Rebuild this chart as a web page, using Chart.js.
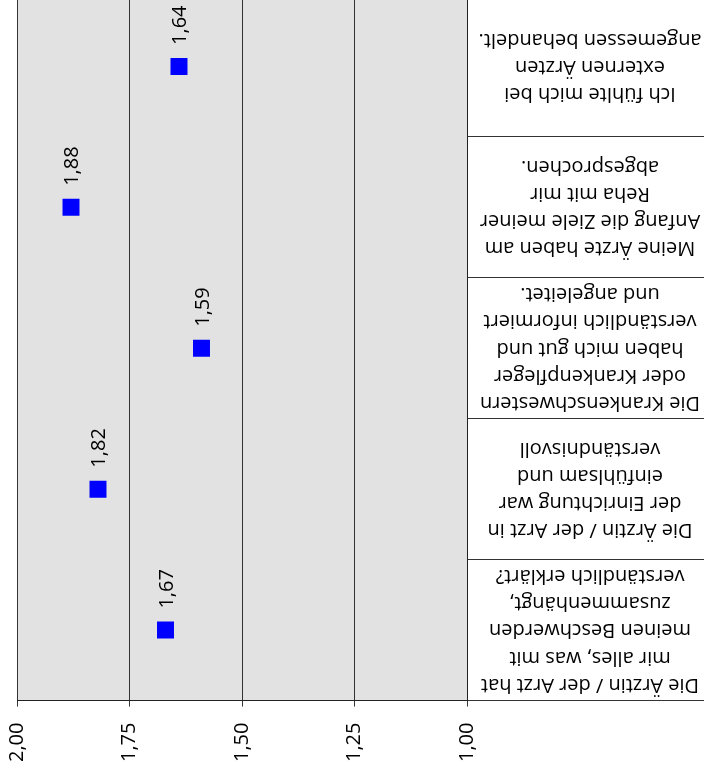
<!DOCTYPE html>
<html>
<head>
<meta charset="utf-8">
<script src="https://cdn.jsdelivr.net/npm/chart.js@4.4.1/dist/chart.umd.min.js"></script>
<style>
    html, body { margin: 0; padding: 0; background: #fff; overflow: hidden; }
    #wrap { position: relative; width: 704px; height: 780px; overflow: hidden; }
    #chart { position: absolute; left: 0; top: -4px; width: 704px; height: 784px; }
</style>
</head>
<body>
<div id="wrap"><canvas id="chart" width="704" height="784"></canvas></div>
<script>
// Survey items (one array of lines per item), first item is drawn at the bottom
const categories = [
    ['Die Ärztin / der Arzt hat', 'mir alles, was mit', 'meinen Beschwerden', 'zusammenhängt,', 'verständlich erklärt?'],
    ['Die Ärztin / der Arzt in', 'der Einrichtung war', 'einfühlsam und', 'verständnisvoll'],
    ['Die Krankenschwestern', 'oder Krankenpfleger', 'haben mich gut und', 'verständlich informiert', 'und angeleitet.'],
    ['Meine Ärzte haben am', 'Anfang die Ziele meiner', 'Reha mit mir', 'abgesprochen.'],
    ['Ich fühlte mich bei', 'externen Ärzten', 'angemessen behandelt.']
];
const values = [1.67, 1.82, 1.59, 1.88, 1.64];
const valueTicks = [2.00, 1.75, 1.50, 1.25, 1.00];

const FONT = "'Open Sans'";
const fmt = v => v.toFixed(2).replace('.', ',');

// grey plot background
const plotBackground = {
    id: 'plotBackground',
    beforeDraw(chart) {
        const { ctx, chartArea: a } = chart;
        ctx.save();
        ctx.fillStyle = '#e2e2e2';
        ctx.fillRect(a.left, a.top, a.right - a.left, a.bottom - a.top);
        ctx.restore();
    }
};

// value labels, rotated, above each marker
const valueLabels = {
    id: 'valueLabels',
    afterDatasetsDraw(chart) {
        const ctx = chart.ctx;
        const meta = chart.getDatasetMeta(0);
        ctx.save();
        ctx.font = '20px ' + FONT;
        ctx.fillStyle = '#000';
        ctx.textAlign = 'left';
        ctx.textBaseline = 'middle';
        meta.data.forEach((pt, i) => {
            ctx.save();
            ctx.translate(pt.x + 1.5, pt.y - 21.5);
            ctx.rotate(-Math.PI / 2);
            ctx.fillText(fmt(values[i]), 0, 0);
            ctx.restore();
        });
        ctx.restore();
    }
};

// upside-down item texts in the right-hand column
const itemLabels = {
    id: 'itemLabels',
    afterDraw(chart) {
        const ctx = chart.ctx;
        const yScale = chart.scales.y;
        const cx = chart.chartArea.right + 123;
        const lh = 27.2;
        ctx.save();
        ctx.font = '20px ' + FONT;
        ctx.fillStyle = '#000';
        ctx.textAlign = 'center';
        ctx.textBaseline = 'middle';
        categories.forEach((lines, i) => {
            const cy = yScale.getPixelForValue(i);
            const n = lines.length;
            lines.forEach((line, j) => {
                const y = cy + (n - 1) / 2 * lh - j * lh;
                ctx.save();
                ctx.translate(cx, y);
                ctx.rotate(Math.PI);
                ctx.fillText(line, 0, 0);
                ctx.restore();
            });
        });
        ctx.restore();
    }
};

new Chart(document.getElementById('chart'), {
    type: 'line',
    data: {
        labels: categories.map(c => c.join(' ')),
        datasets: [{
            data: values,
            showLine: false,
            pointStyle: 'rect',
            pointRadius: 12,
            pointHoverRadius: 12,
            pointBackgroundColor: '#0000ff',
            pointBorderWidth: 0
        }]
    },
    options: {
        indexAxis: 'y',
        responsive: false,
        animation: false,
        devicePixelRatio: 1,
        layout: { autoPadding: false, padding: { left: 17, top: 0, right: 0, bottom: 2 } },
        plugins: {
            legend: { display: false },
            tooltip: { enabled: false }
        },
        scales: {
            x: {
                type: 'linear',
                position: 'bottom',
                reverse: true,
                min: 1,
                max: 2,
                afterBuildTicks: s => { s.ticks = valueTicks.map(v => ({ value: v })); },
                grid: {
                    color: '#333',
                    lineWidth: 1,
                    drawTicks: true,
                    tickLength: 6
                },
                border: { display: true, color: '#222', width: 1 },
                ticks: {
                    autoSkip: false,
                    minRotation: 90,
                    maxRotation: 90,
                    padding: 16,
                    color: '#000',
                    font: { family: FONT, size: 20 },
                    callback: v => fmt(v)
                }
            },
            y: {
                type: 'category',
                position: 'right',
                reverse: true,
                offset: true,
                grid: {
                    offset: true,
                    drawOnChartArea: false,
                    drawTicks: true,
                    tickLength: 237,
                    color: '#333'
                },
                border: { display: true, color: '#222', width: 1 },
                ticks: { display: false }
            }
        }
    },
    plugins: [plotBackground, valueLabels, itemLabels]
});
</script>
</body>
</html>
